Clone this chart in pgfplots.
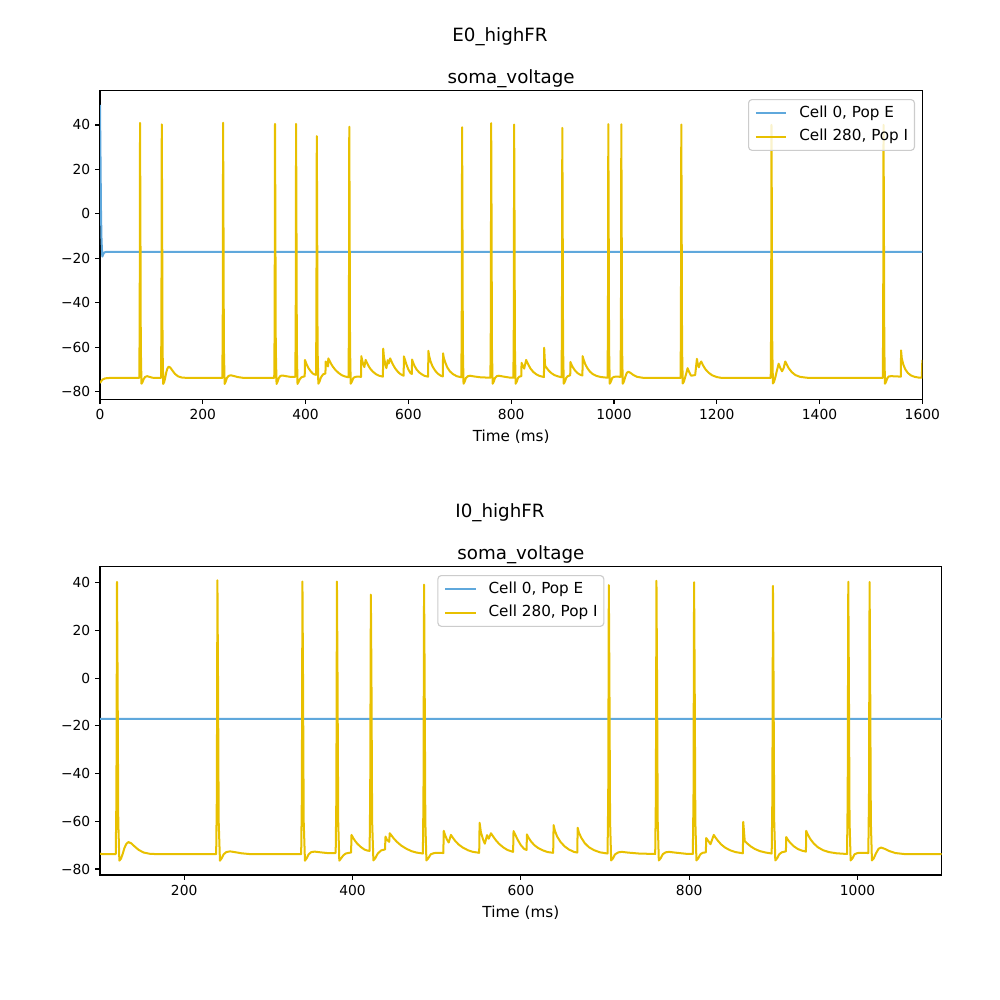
\documentclass[border=0pt]{standalone}
\usepackage{fontspec}
\setmainfont{DejaVu Sans}
\usepackage{pgfplots}
\usepackage{pgfplotstable}
\pgfplotsset{compat=1.18}
\definecolor{cblue}{RGB}{95,168,220}
\definecolor{cyel}{RGB}{232,192,0}

\pgfplotstableread{
t v
0 -76.1
3 -75.0
6 -74.4
10 -74.0
15 -73.85
20 -73.8
76.4 -73.8
77.2 -50
77.9 40.9
78.6 0
79.4 -60
80.7 -76.4
82.5 -75.8
85 -74.3
88 -73.3
92 -73.0
96 -73.3
102 -73.7
110 -73.8
118.7 -73.8
119.5 -50
120.2 40.3
120.9 0
121.7 -60
123 -76.5
125 -75.6
127 -73.6
129 -71.2
131.2 -69.5
133.7 -68.7
137 -69.2
141 -70.5
146 -72.0
152 -73.1
159 -73.6
170 -73.8
238 -73.8
238.8 -50
239.5 41
240.2 0
241 -60
242.5 -76.5
244.5 -75.5
247 -73.8
250 -72.9
254.5 -72.6
260 -72.9
268 -73.4
280 -73.8
339 -73.8
339.8 -50
340.5 40.5
341.2 0
342 -60
343.5 -76.5
345.5 -75.5
348 -73.8
351 -72.9
355 -72.7
362 -73.0
370 -73.3
380 -73.3
380.8 -50
381.5 40.5
382.2 0
383 -60
384.3 -76.5
386.5 -75.5
389 -74.3
392 -73.5
396 -73.2
398.3 -73.1
398.8 -65.7
401 -67.1
403 -68.2
406 -69.5
410 -70.8
414 -71.8
417 -72.2
420.3 -72.4
421 -50
421.8 35
422.5 0
423.3 -60
424.8 -76.4
427 -75.5
430 -73.5
434 -72.2
438.6 -71.8
439.2 -66.4
441 -67.8
443.6 -68.6
444.2 -65.0
446 -65.8
449 -67.2
453 -68.7
458 -70.2
464 -71.5
470 -72.5
476 -73.1
483.6 -73.5
484.3 -50
485 39.2
485.7 0
486.5 -60
487.8 -76.4
490 -75.5
493 -73.8
497 -73.3
502 -73.2
507.9 -73.3
508.4 -64.0
510 -65.8
512 -67.5
514.3 -68.9
516.9 -65.7
519 -66.8
522 -68.2
526 -69.7
531 -71.0
537 -72.1
543 -72.8
550.5 -73.2
551 -60.6
552.5 -64.5
555 -67.5
557.2 -69.4
559.8 -65.8
561.8 -67.3
564.5 -65.0
567 -66.3
570 -67.8
574 -69.4
579 -70.9
584 -72.0
590.8 -72.8
591.3 -64.1
593 -65.3
596 -67.6
600 -70.0
604 -71.6
606.8 -72.0
607.2 -65.5
609 -66.8
612 -68.4
616 -70.0
621 -71.3
627 -72.3
632 -72.9
638.4 -73.2
638.9 -61.6
640.5 -64.0
643 -66.3
647 -68.6
652 -70.5
657 -71.8
663 -72.8
667 -73.1
667.5 -62.7
669 -64.8
672 -67.0
676 -69.2
681 -70.9
687 -72.1
694 -73.0
703 -73.5
703.8 -50
704.5 39
705.2 0
706 -60
707.3 -76.4
709.5 -75.5
712 -73.8
716 -73.0
720 -72.8
727 -73.1
740 -73.5
759.6 -73.7
760.4 -50
761.1 40.8
761.8 0
762.6 -60
763.9 -76.4
766.1 -75.5
768.6 -73.8
772 -73.0
776 -72.8
783 -73.1
796 -73.6
804.3 -73.7
805.1 -50
805.8 40.2
806.5 0
807.3 -60
808.6 -76.4
810.8 -75.5
813.3 -73.8
816 -73.2
819.8 -73.0
820.2 -67.0
822 -67.9
825.3 -69.6
829.2 -65.7
831 -66.7
834 -68.1
838 -69.7
843 -71.1
849 -72.2
855 -72.9
863.8 -73.4
864.2 -60.2
866 -68.3
869 -69.3
873 -70.5
878 -71.6
884 -72.5
891 -73.1
898 -73.5
898.8 -50
899.5 38.7
900.2 0
901 -60
902.3 -76.4
904.5 -75.5
907 -73.8
910 -73.0
914.9 -72.6
915.3 -66.6
917 -67.6
920 -69.0
924 -70.4
929 -71.6
934 -72.3
938.7 -72.7
939 -64.0
941 -65.6
944 -67.5
948 -69.3
953 -70.9
959 -72.1
966 -72.9
975 -73.4
987.5 -73.7
988.3 -50
989 40.4
989.7 0
990.5 -60
991.8 -76.4
994 -75.5
996.5 -73.8
1000 -73.3
1005 -73.2
1012.8 -73.3
1013.6 -50
1014.3 40.3
1015 0
1015.8 -60
1017.1 -76.4
1019.3 -75.5
1021.8 -73.5
1025 -71.5
1028 -71.0
1032 -71.5
1038 -72.5
1045 -73.3
1055 -73.7
1065 -73.8
1129.6 -73.8
1130.3 -50
1131 40.2
1131.7 0
1132.5 -60
1133.8 -76.3
1136 -75.5
1138.5 -73.5
1141 -71.5
1143.3 -69.4
1146 -71.0
1150 -72.8
1158 -72.5
1161.4 -65.2
1163 -67.5
1165.2 -69.0
1167 -67.5
1169.8 -66.4
1173 -68.0
1178 -69.9
1184 -71.4
1191 -72.6
1200 -73.4
1210 -73.8
1305 -73.8
1305.8 -50
1306.5 40
1307.2 0
1308 -60
1309.3 -76.3
1311.5 -75.5
1314 -73.5
1317 -70.5
1320.4 -67.4
1323 -69.0
1327 -70.8
1330 -69.5
1333.3 -66.4
1336 -67.6
1340 -69.4
1346 -71.2
1353 -72.5
1362 -73.3
1375 -73.7
1385 -73.8
1523 -73.8
1523.8 -50
1524.5 40
1525.2 0
1526 -60
1527.3 -76.4
1529.5 -75.5
1532 -73.8
1535 -73.1
1540 -73.0
1548 -73.1
1558.2 -73.2
1558.6 -61.4
1560 -65.0
1563 -67.8
1567 -70.0
1572 -71.6
1578 -72.7
1585 -73.3
1592 -73.6
1599 -73.7
1600 -65.7
}\yel

\pgfplotstableread{
t v
0 49.0
1 25
2 0
3 -12
4.5 -19.2
6 -18.3
8 -17.4
12 -17.1
400 -17.1
800 -17.1
1200 -17.1
1600 -17.1
}\blu

\pgfplotsset{
  mystyle/.style={
    scale only axis,
    axis line style={line width=0.8pt, black},
    tick pos=left,
    tick align=outside,
    major tick length=3.5pt,
    every tick/.style={black, line width=0.8pt},
    ytick={-80,-60,-40,-20,0,20,40},
    yticklabels={−80,−60,−40,−20,0,20,40},
    ticklabel style={font=\fontsize{10}{12}\selectfont},
    /pgf/number format/assume math mode=true,
    /pgf/number format/1000 sep={},
    title style={anchor=base, yshift=-1pt, font=\fontsize{13.2}{15}\selectfont},
    xlabel style={at={(axis description cs:0.5,0)}, anchor=base, yshift=-30.5pt, font=\fontsize{11}{13}\selectfont},
    xticklabel style={anchor=base, yshift=-11.3pt},
    yticklabel style={anchor=east},
    legend cell align=left,
    legend image code/.code={\draw[#1] (0pt,0pt) -- (22pt,0pt);},
    legend style={font=\fontsize{11}{13}\selectfont, draw=black!20, line width=0.8pt, rounded corners=2.5pt,
      fill=white, fill opacity=0.8, text opacity=1, draw opacity=1,
      inner xsep=4.5pt, inner ysep=4.2pt, row sep=6.3pt, column sep=8.7pt,
      nodes={inner sep=0pt, text height=8.4pt, text depth=2.6pt}},
    every axis plot/.append style={line width=1.45pt, line join=round},
  }
}

\begin{document}
\begin{tikzpicture}
\path[use as bounding box] (0pt,0pt) rectangle (722.7pt,722.7pt);
\node[anchor=base, font=\fontsize{13.2}{15}\selectfont] at (361.35pt,692.7pt) {E0\_highFR};
\node[anchor=base, font=\fontsize{13.2}{15}\selectfont] at (361.35pt,348.6pt) {I0\_highFR};

\begin{axis}[mystyle,
  at={(72.27pt,434.13pt)}, anchor=south west,
  width=594.3pt, height=223.0pt,
  xmin=0, xmax=1600, ymin=-83.4, ymax=55.4,
  xtick={0,200,400,600,800,1000,1200,1400,1600},
  title={soma\_voltage}, xlabel={Time (ms)},
  legend style={at={(1,1)}, anchor=north east, xshift=-5.3pt, yshift=-6pt},
]
\addplot[cblue] table[x=t,y=v] {\blu};
\addlegendentry{Cell 0, Pop E}
\addplot[cyel] table[x=t,y=v] {\yel};
\addlegendentry{Cell 280, Pop I}
\end{axis}

\begin{axis}[mystyle,
  at={(72.27pt,90.34pt)}, anchor=south west,
  width=608.3pt, height=222.8pt,
  xmin=100, xmax=1100, ymin=-82.5, ymax=46.7,
  xtick={200,400,600,800,1000},
  title={soma\_voltage}, xlabel={Time (ms)},
  legend style={at={(0.5,1)}, anchor=north, yshift=-6pt},
]
\addplot[cblue] table[x=t,y=v] {\blu};
\addlegendentry{Cell 0, Pop E}
\addplot[cyel] table[x=t,y=v] {\yel};
\addlegendentry{Cell 280, Pop I}
\end{axis}
\end{tikzpicture}
\end{document}
